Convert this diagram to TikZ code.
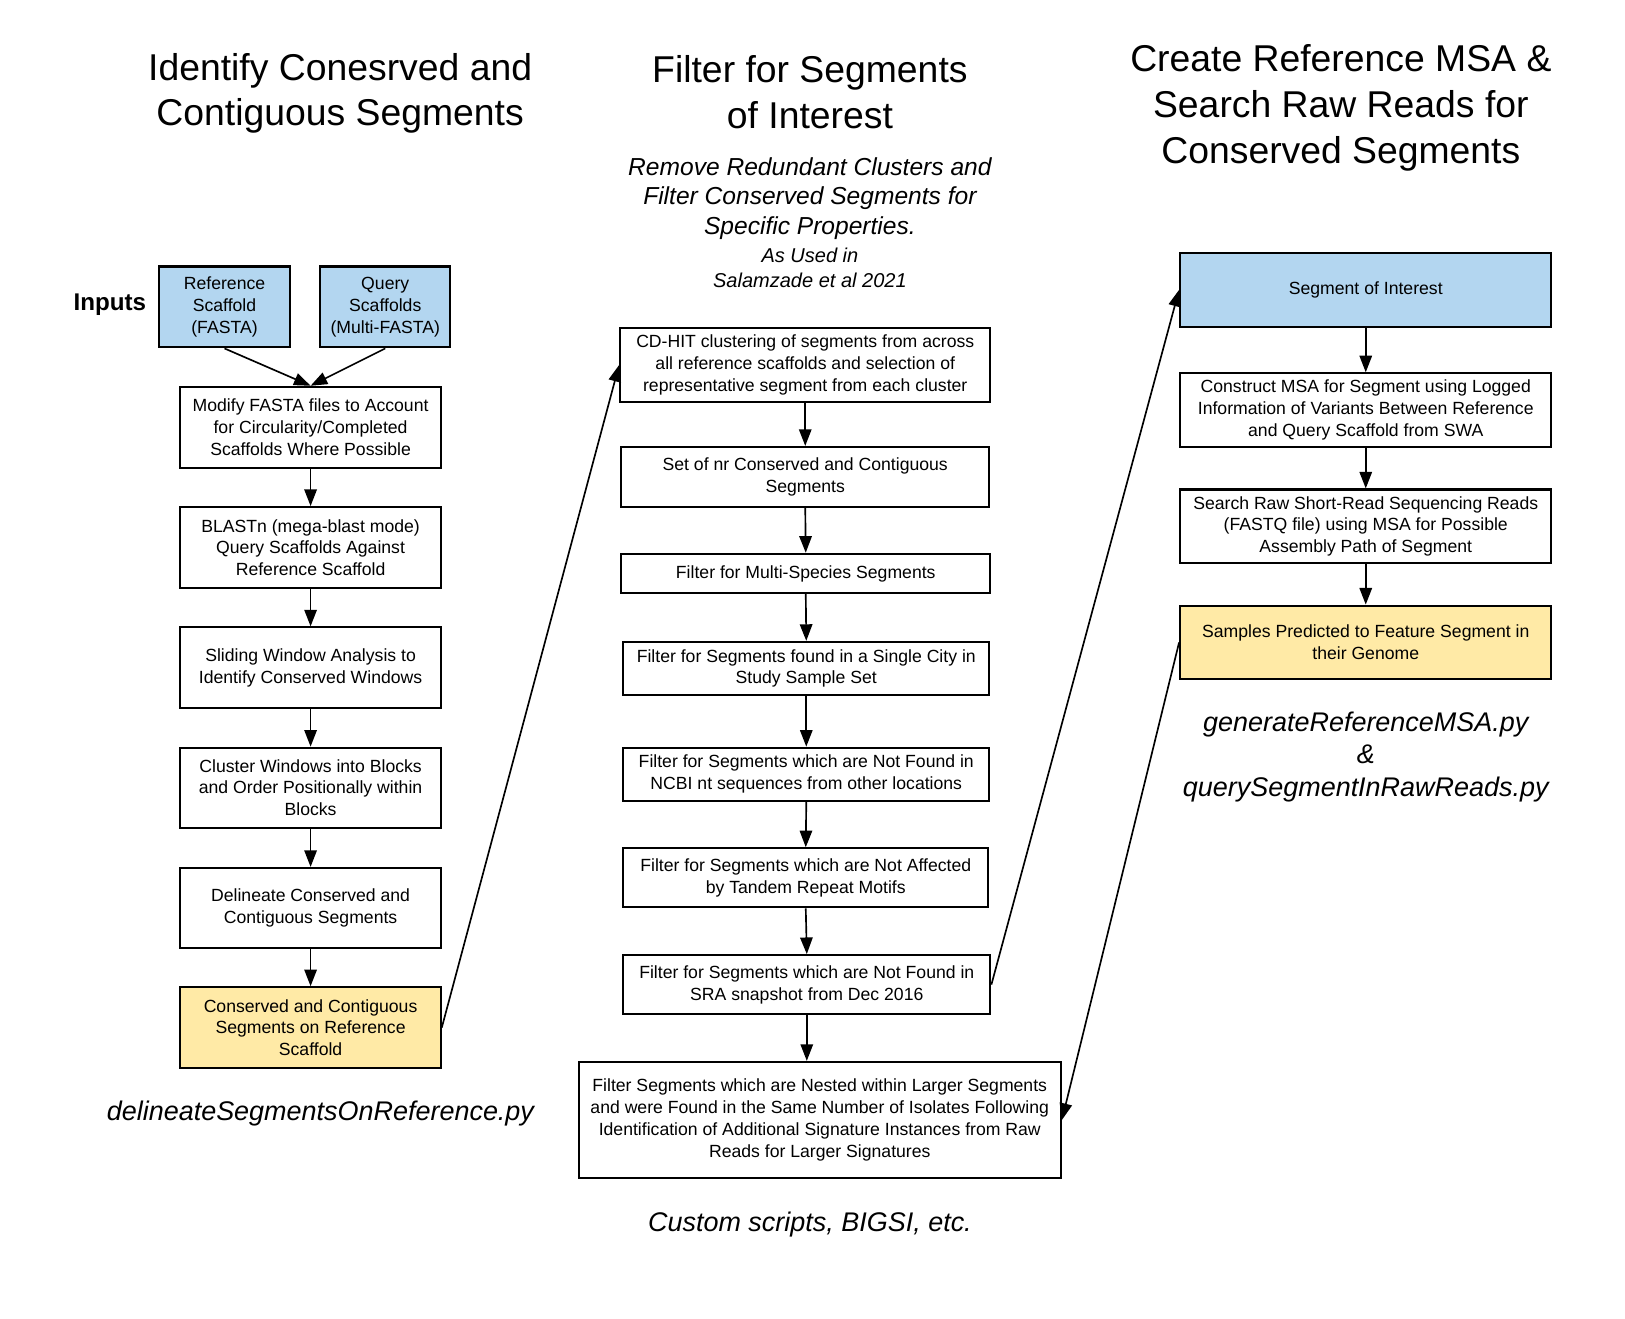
\documentclass[tikz,border=0pt]{standalone}
\usepackage{fontspec}
\setmainfont{Liberation Sans}
\usepackage{tikz}
\usetikzlibrary{arrows.meta}
\definecolor{inblue}{RGB}{179,214,240}
\definecolor{outyellow}{RGB}{255,234,166}
\tikzstyle{box}=[draw=black, line width=2pt, align=center, inner sep=0pt, font=\fontsize{17}{21}\selectfont]
\tikzstyle{inbox}=[box, fill=inblue]
\tikzstyle{outbox}=[box, fill=outyellow]
\tikzstyle{arr}=[line width=1.6pt, -{Triangle[length=16pt,width=12pt]}]
\tikzstyle{heading}=[align=center, font=\fontsize{36}{44}\selectfont]
\tikzstyle{script}=[align=center, font=\fontsize{26}{31}\itshape\selectfont]

\begin{document}
\begin{tikzpicture}[x=1pt, y=-1pt]
    \useasboundingbox (0,0) rectangle (1567,1271);
    % headings
    \node[heading] (h1) at (328,90) {Identify Conesrved and\\Contiguous Segments};
    \node[heading] (h2) at (781,89) {Filter for Segments\\of Interest};
    \node[heading] (h3) at (1293,104) {Create Reference MSA \&\\Search Raw Reads for\\Conserved Segments};
    \node[align=center, font=\fontsize{23.7}{28.5}\itshape\selectfont] (sub1) at (781,191.5)
      {Remove Redundant Clusters and\\Filter Conserved Segments for\\Specific Properties.};
    \node[align=center, font=\fontsize{19.3}{24}\itshape\selectfont] (sub2) at (781,258)
      {As Used in\\Salamzade et al 2021};
    \node[font=\fontsize{23.3}{28}\bfseries\selectfont] (inputs) at (106,294) {Inputs};
    % left column
    \node[inbox, minimum width=127pt, minimum height=78pt] (ref) at (216.5,296) {Reference\\Scaffold\\(FASTA)};
    \node[inbox, minimum width=125pt, minimum height=78pt] (qry) at (371.5,296) {Query\\Scaffolds\\(Multi-FASTA)};
    \node[box, minimum width=251pt, minimum height=78pt] (modify) at (299.5,412)
      {Modify FASTA files to Account\\for Circularity/Completed\\Scaffolds Where Possible};
    \node[box, minimum width=251pt, minimum height=78pt] (blast) at (299.5,528)
      {BLASTn (mega-blast mode)\\Query Scaffolds Against\\Reference Scaffold};
    \node[box, minimum width=251pt, minimum height=78pt] (slide) at (299.5,644)
      {Sliding Window Analysis to\\Identify Conserved Windows};
    \node[box, minimum width=251pt, minimum height=77pt] (clust) at (299.5,759.5)
      {Cluster Windows into Blocks\\and Order Positionally within\\Blocks};
    \node[box, minimum width=251pt, minimum height=77pt] (delin) at (299.5,875.5)
      {Delineate Conserved and\\Contiguous Segments};
    \node[outbox, minimum width=251pt, minimum height=78pt] (cons) at (299.5,991)
      {Conserved and Contiguous\\Segments on Reference\\Scaffold};
    \node[script] (scr1) at (309,1074) {delineateSegmentsOnReference.py};
    % middle column
    \node[box, minimum width=357pt, minimum height=72pt] (cdhit) at (776.5,352)
      {CD-HIT clustering of segments from across\\all reference scaffolds and selection of\\representative segment from each cluster};
    \node[box, minimum width=355pt, minimum height=58pt] (setnr) at (776.5,460)
      {Set of nr Conserved and Contiguous\\Segments};
    \node[box, minimum width=356pt, minimum height=38pt] (multi) at (777,553)
      {Filter for Multi-Species Segments};
    \node[box, minimum width=353pt, minimum height=51pt] (city) at (777.5,644.5)
      {Filter for Segments found in a Single City in\\Study Sample Set};
    \node[box, minimum width=353pt, minimum height=51pt] (ncbi) at (777.5,746.5)
      {Filter for Segments which are Not Found in\\NCBI nt sequences from other locations};
    \node[box, minimum width=352pt, minimum height=57pt] (tandem) at (777,846.5)
      {Filter for Segments which are Not Affected\\by Tandem Repeat Motifs};
    \node[box, minimum width=354pt, minimum height=57pt] (sra) at (778,949.5)
      {Filter for Segments which are Not Found in\\SRA snapshot from Dec 2016};
    \node[box, minimum width=465pt, minimum height=112pt] (nested) at (790.5,1080)
      {Filter Segments which are Nested within Larger Segments\\and were Found in the Same Number of Isolates Following\\Identification of Additional Signature Instances from Raw\\Reads for Larger Signatures};
    \node[script] (scr2) at (781,1181) {Custom scripts, BIGSI, etc.};
    % right column
    \node[inbox, minimum width=358pt, minimum height=71pt] (soi) at (1317,279.5) {Segment of Interest};
    \node[box, minimum width=358pt, minimum height=71pt] (msa) at (1317,395.5)
      {Construct MSA for Segment using Logged\\Information of Variants Between Reference\\and Query Scaffold from SWA};
    \node[box, minimum width=358pt, minimum height=71pt] (search) at (1317,507.5)
      {Search Raw Short-Read Sequencing Reads\\(FASTQ file) using MSA for Possible\\Assembly Path of Segment};
    \node[outbox, minimum width=358pt, minimum height=71pt] (samples) at (1317,619.5)
      {Samples Predicted to Feature Segment in\\their Genome};
    \node[script] (scr3) at (1317,730) {generateReferenceMSA.py\\\&\\querySegmentInRawReads.py};
    % connectors
    \foreach \from/\to in
      {ref/modify, qry/modify, modify/blast, blast/slide, slide/clust, clust/delin, delin/cons,
       cdhit/setnr, setnr/multi, multi/city, city/ncbi, ncbi/tandem, tandem/sra,
       soi/msa, msa/search, search/samples}
    \draw[arr] (\from.south) -- (\to.north);
    \draw[arr] (sra.south) -- (sra.south |- nested.north);
    \foreach \from/\fa/\to/\ta in
      {cons/east/cdhit/west, sra/east/soi/west, samples/west/nested/east}
    \draw[arr] (\from.\fa) -- (\to.\ta);
\end{tikzpicture}
\end{document}
